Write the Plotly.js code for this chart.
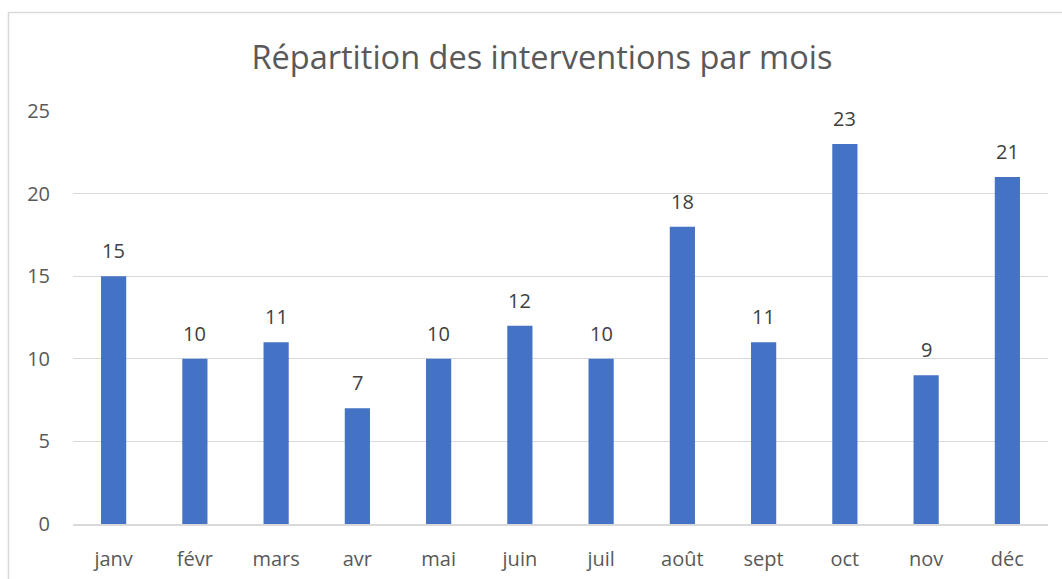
<!DOCTYPE html>
<html>
<head>
<meta charset="utf-8">
<script src="https://cdn.plot.ly/plotly-3.0.1.min.js"></script>
<style>
html,body{margin:0;padding:0;background:#fff;}
#chart{width:1062px;height:579px;}
</style>
</head>
<body>
<div id="chart"></div>
<script>
const months = ["janv","févr","mars","avr","mai","juin","juil","août","sept","oct","nov","déc"];
const interventions = [15,10,11,7,10,12,10,18,11,23,9,21];
const chartTitle = "Répartition des interventions par mois";
const yTicks = [0,5,10,15,20,25];

const FONT = "Open Sans, sans-serif";

const trace = {
  type: "bar",
  x: months,
  y: interventions,
  marker: {color: "#4472C4", line: {width: 0}},
  hoverinfo: "x+y"
};

const annotations = months.map((m, i) => ({
  x: m, y: interventions[i], xref: "x", yref: "y",
  text: String(interventions[i]),
  showarrow: false, yanchor: "bottom", yshift: 10,
  font: {family: FONT, size: 20, color: "#404040"}
}));

const layout = {
  width: 1062, height: 579,
  margin: {l: 73, r: 14, t: 111, b: 55},
  paper_bgcolor: "#fff", plot_bgcolor: "#fff",
  bargap: 0.69,
  showlegend: false,
  title: {
    text: chartTitle,
    x: 0.481, xref: "paper", xanchor: "center",
    y: 0.901, yref: "container", yanchor: "middle",
    font: {family: FONT, size: 32.5, color: "#595959"}
  },
  xaxis: {
    type: "category",
    showgrid: false,
    showline: true, linecolor: "#D9D9D9", linewidth: 1.5,
    ticks: "", ticklabelstandoff: 16,
    tickfont: {family: FONT, size: 20, color: "#595959"},
    fixedrange: true
  },
  yaxis: {
    range: [0, 25],
    tickvals: yTicks,
    showgrid: true, gridcolor: "#D9D9D9", gridwidth: 1.3,
    zeroline: false, showline: false,
    ticks: "", ticklabelstandoff: 22,
    tickfont: {family: FONT, size: 20, color: "#595959"},
    fixedrange: true
  },
  annotations: annotations,
  shapes: [{
    type: "rect", xref: "paper", yref: "paper",
    x0: -0.0662, x1: 1.05, y0: -0.3, y1: 1.2385,
    line: {color: "#D9D9D9", width: 1.5}, fillcolor: "rgba(0,0,0,0)",
    layer: "below"
  }]
};

Plotly.newPlot("chart", [trace], layout, {displayModeBar: false, staticPlot: true});
</script>
</body>
</html>
